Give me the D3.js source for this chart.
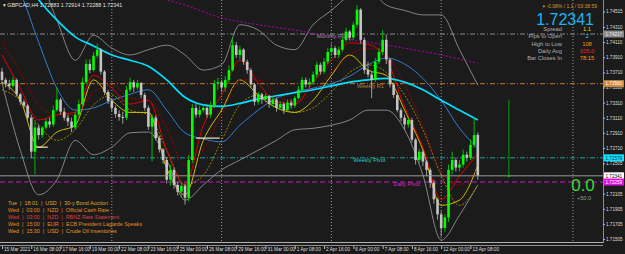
<!DOCTYPE html>
<html>
<head>
<meta charset="utf-8">
<script src="https://cdn.jsdelivr.net/npm/d3@7"></script>
<style>
body { margin: 0; background: #1b1b1b; }
svg { display: block; font-family: "Liberation Sans", "DejaVu Sans", sans-serif; }
</style>
</head>
<body>
<div id="chart"></div>
<script>
// GBPCAD H4 chart, MT4 style

// --- data ---
const timeLabels = ["15 Mar 2021", "16 Mar 08:00", "17 Mar 16:00", "19 Mar 00:00", "22 Mar 08:00",
  "23 Mar 16:00", "25 Mar 00:00", "26 Mar 08:00", "29 Mar 16:00", "31 Mar 00:00", "1 Apr 08:00",
  "2 Apr 16:00", "6 Apr 00:00", "7 Apr 08:00", "8 Apr 16:00", "12 Apr 00:00", "13 Apr 08:00"];
const timeLabelBars = [0, 8, 16, 24, 32, 40, 48, 56, 64, 72, 80, 88, 96, 104, 112, 120, 128];
const weekBars = [30, 60, 90, 120, 156];

const priceTicks = [1.74515, 1.74310, 1.74110, 1.73910, 1.73710, 1.73510, 1.73310, 1.73110,
  1.72910, 1.72710, 1.72505, 1.72105, 1.71905, 1.71705, 1.71505];

const opens = [
  1.7372, 1.7361, 1.7356, 1.7353, 1.7361, 1.7342, 1.7332, 1.7327, 1.7311, 1.7266,
  1.7298, 1.7288, 1.7298, 1.7306, 1.7302, 1.7321, 1.7335, 1.7319, 1.7311, 1.7306,
  1.7298, 1.7315, 1.7329, 1.7358, 1.7382, 1.7374, 1.7393, 1.7401, 1.7372, 1.7345,
  1.7333, 1.7324, 1.7316, 1.7312, 1.7311, 1.7348, 1.7358, 1.7351, 1.7357, 1.7341,
  1.7324, 1.7299, 1.7311, 1.7284, 1.7269, 1.7255, 1.7229, 1.7242, 1.7222, 1.7213,
  1.7221, 1.7205, 1.7255, 1.7324, 1.7315, 1.7321, 1.7324, 1.7315, 1.7327, 1.7356,
  1.7358, 1.7351, 1.7361, 1.7374, 1.7407, 1.7394, 1.7401, 1.7385, 1.7374, 1.7355,
  1.7332, 1.7342, 1.7335, 1.7340, 1.7329, 1.7335, 1.7324, 1.7329, 1.7321, 1.7331,
  1.7327, 1.7337, 1.7348, 1.7361, 1.7355, 1.7358, 1.7368, 1.7381, 1.7372, 1.7385,
  1.7398, 1.7403, 1.7394, 1.7401, 1.7414, 1.7425, 1.7417, 1.7434, 1.7454, 1.7414,
  1.7374, 1.7368, 1.7361, 1.7385, 1.7398, 1.7414, 1.7388, 1.7355, 1.7341, 1.7321,
  1.7311, 1.7302, 1.7308, 1.7282, 1.7255, 1.7266, 1.7253, 1.7242, 1.7225, 1.7203,
  1.7183, 1.7165, 1.7179, 1.7242, 1.7255, 1.7245, 1.7249, 1.7262, 1.7258, 1.7275,
  1.72883];
const closes = [
  1.7361, 1.7356, 1.7353, 1.7361, 1.7342, 1.7332, 1.7327, 1.7311, 1.7266, 1.7298,
  1.7288, 1.7298, 1.7306, 1.7302, 1.7321, 1.7335, 1.7319, 1.7311, 1.7306, 1.7298,
  1.7315, 1.7329, 1.7358, 1.7382, 1.7374, 1.7393, 1.7401, 1.7372, 1.7345, 1.7333,
  1.7324, 1.7316, 1.7312, 1.7311, 1.7348, 1.7358, 1.7351, 1.7357, 1.7341, 1.7324,
  1.7299, 1.7311, 1.7284, 1.7269, 1.7255, 1.7229, 1.7242, 1.7222, 1.7213, 1.7221,
  1.7205, 1.7255, 1.7324, 1.7315, 1.7321, 1.7324, 1.7315, 1.7327, 1.7356, 1.7358,
  1.7351, 1.7361, 1.7374, 1.7407, 1.7394, 1.7401, 1.7385, 1.7374, 1.7355, 1.7332,
  1.7342, 1.7335, 1.7340, 1.7329, 1.7335, 1.7324, 1.7329, 1.7321, 1.7331, 1.7327,
  1.7337, 1.7348, 1.7361, 1.7355, 1.7358, 1.7368, 1.7381, 1.7372, 1.7385, 1.7398,
  1.7403, 1.7394, 1.7401, 1.7414, 1.7425, 1.7417, 1.7434, 1.7454, 1.7414, 1.7374,
  1.7368, 1.7361, 1.7385, 1.7398, 1.7414, 1.7388, 1.7355, 1.7341, 1.7321, 1.7311,
  1.7302, 1.7308, 1.7282, 1.7255, 1.7266, 1.7253, 1.7242, 1.7225, 1.7203, 1.7183,
  1.7165, 1.7179, 1.7242, 1.7255, 1.7245, 1.7249, 1.7262, 1.7258, 1.7275, 1.7288,
  1.72341];
const highs = [
  1.7377, 1.7364, 1.7361, 1.7365, 1.7363, 1.7344, 1.7335, 1.7329, 1.7314, 1.7306,
  1.7302, 1.7300, 1.7310, 1.7311, 1.7327, 1.7351, 1.7337, 1.7324, 1.7315, 1.7311,
  1.7319, 1.7335, 1.7364, 1.7388, 1.7388, 1.7398, 1.7409, 1.7403, 1.7374, 1.7348,
  1.7337, 1.7327, 1.7321, 1.7319, 1.7353, 1.7364, 1.7361, 1.7361, 1.7358, 1.7344,
  1.7327, 1.7315, 1.7314, 1.7287, 1.7271, 1.7259, 1.7249, 1.7245, 1.7226, 1.7226,
  1.7224, 1.7262, 1.7329, 1.7329, 1.7327, 1.7329, 1.7328, 1.7332, 1.7361, 1.7364,
  1.7361, 1.7366, 1.7380, 1.7417, 1.7411, 1.7406, 1.7403, 1.7388, 1.7377, 1.7357,
  1.7345, 1.7344, 1.7343, 1.7341, 1.7339, 1.7337, 1.7333, 1.7332, 1.7335, 1.7335,
  1.7340, 1.7353, 1.7365, 1.7364, 1.7363, 1.7372, 1.7385, 1.7384, 1.7390, 1.7403,
  1.7409, 1.7406, 1.7405, 1.7419, 1.7430, 1.7427, 1.7438, 1.7460, 1.7456, 1.7417,
  1.7385, 1.7372, 1.7390, 1.7403, 1.7427, 1.7421, 1.7390, 1.7357, 1.7344, 1.7324,
  1.7315, 1.7312, 1.7311, 1.7284, 1.7270, 1.7269, 1.7255, 1.7245, 1.7229, 1.7205,
  1.7187, 1.7183, 1.7249, 1.7266, 1.7258, 1.7255, 1.7269, 1.7266, 1.7282, 1.7311,
  1.72914];
const lows = [
  1.7356, 1.7351, 1.7348, 1.7351, 1.7339, 1.7328, 1.7323, 1.7307, 1.7258, 1.7236,
  1.7282, 1.7284, 1.7295, 1.7298, 1.7299, 1.7319, 1.7315, 1.7307, 1.7300, 1.7292,
  1.7295, 1.7312, 1.7327, 1.7355, 1.7370, 1.7372, 1.7390, 1.7368, 1.7341, 1.7329,
  1.7319, 1.7311, 1.7307, 1.7303, 1.7308, 1.7345, 1.7345, 1.7348, 1.7337, 1.7320,
  1.7295, 1.7253, 1.7281, 1.7265, 1.7250, 1.7224, 1.7221, 1.7217, 1.7208, 1.7206,
  1.7196, 1.7200, 1.7251, 1.7311, 1.7311, 1.7318, 1.7311, 1.7311, 1.7324, 1.7348,
  1.7345, 1.7345, 1.7356, 1.7372, 1.7390, 1.7388, 1.7381, 1.7369, 1.7351, 1.7327,
  1.7328, 1.7329, 1.7331, 1.7324, 1.7325, 1.7319, 1.7321, 1.7316, 1.7319, 1.7323,
  1.7324, 1.7335, 1.7345, 1.7351, 1.7351, 1.7355, 1.7364, 1.7368, 1.7369, 1.7382,
  1.7393, 1.7390, 1.7390, 1.7398, 1.7411, 1.7413, 1.7414, 1.7430, 1.7409, 1.7369,
  1.7364, 1.7337, 1.7358, 1.7382, 1.7394, 1.7382, 1.7351, 1.7337, 1.7318, 1.7306,
  1.7295, 1.7298, 1.7278, 1.7249, 1.7251, 1.7247, 1.7234, 1.7218, 1.7197, 1.7176,
  1.7154, 1.7160, 1.7173, 1.7236, 1.7240, 1.7240, 1.7245, 1.7253, 1.7255, 1.7271,
  1.72288];

// indicator lines, read every 5 bars (bar 0, 5, 10 ... 130)
const maBars = d3.range(0, 131, 5);
const maCyan = [1.7526, 1.7500, 1.7467, 1.7440, 1.7418, 1.7406, 1.7394, 1.7387, 1.7379, 1.7361,
  1.7338, 1.7328, 1.7326, 1.7330, 1.7336, 1.7340, 1.7344, 1.7348, 1.7353, 1.7358,
  1.7361, 1.7363, 1.7358, 1.7348, 1.7334, 1.7321, 1.7308];
const maBlue = [1.7520, 1.7477, 1.7411, 1.7350, 1.7321, 1.7324, 1.7334, 1.7342, 1.7348, 1.7321,
  1.7291, 1.7283, 1.7279, 1.7301, 1.7321, 1.7337, 1.7345, 1.7350, 1.7356, 1.7366,
  1.7381, 1.7390, 1.7382, 1.7363, 1.7334, 1.7297, 1.7271];
const maRed = [1.7394, 1.7350, 1.7308, 1.7315, 1.7318, 1.7367, 1.7350, 1.7329, 1.7334, 1.7268,
  1.7222, 1.7301, 1.7341, 1.7387, 1.7357, 1.7332, 1.7329, 1.7358, 1.7387, 1.7410,
  1.7408, 1.7389, 1.7325, 1.7272, 1.7203, 1.7234, 1.7263];
const maDarkRed = [1.7411, 1.7371, 1.7328, 1.7315, 1.7315, 1.7345, 1.7354, 1.7337, 1.7334, 1.7297,
  1.7248, 1.7268, 1.7315, 1.7361, 1.7361, 1.7341, 1.7332, 1.7345, 1.7371, 1.7394,
  1.7403, 1.7394, 1.7354, 1.7301, 1.7239, 1.7222, 1.7244];
const maYellow = [1.7358, 1.7334, 1.7272, 1.7292, 1.7301, 1.7361, 1.7334, 1.7318, 1.7318, 1.7244,
  1.7209, 1.7281, 1.7321, 1.7361, 1.7341, 1.7324, 1.7318, 1.7334, 1.7367, 1.7394,
  1.7374, 1.7367, 1.7321, 1.7268, 1.7195, 1.7202, 1.7248];
const maOlive = [1.7348, 1.7334, 1.7301, 1.7281, 1.7295, 1.7328, 1.7341, 1.7321, 1.7315, 1.7268,
  1.7222, 1.7235, 1.7281, 1.7328, 1.7341, 1.7328, 1.7318, 1.7324, 1.7345, 1.7371,
  1.7381, 1.7371, 1.7341, 1.7295, 1.7235, 1.7195, 1.7222];
const bandUpper = [1.7559, 1.7533, 1.7500, 1.7440, 1.7387, 1.7420, 1.7403, 1.7394, 1.7401, 1.7407,
  1.7394, 1.7374, 1.7381, 1.7434, 1.7427, 1.7407, 1.7401, 1.7434, 1.7453, 1.7473,
  1.7480, 1.7460, 1.7453, 1.7447, 1.7447, 1.7401, 1.7354];
const bandLower = [1.7357, 1.7268, 1.7209, 1.7229, 1.7281, 1.7262, 1.7272, 1.7291, 1.7292, 1.7255,
  1.7202, 1.7222, 1.7242, 1.7255, 1.7268, 1.7281, 1.7295, 1.7297, 1.7301, 1.7308,
  1.7321, 1.7321, 1.7295, 1.7235, 1.7149, 1.7182, 1.7222];
const slowBars = [40, 50, 60, 70, 80, 90, 100, 110, 120, 130];
const maSlow = [1.7473, 1.7460, 1.7443, 1.7434, 1.7427, 1.7418, 1.7411, 1.7403, 1.7394, 1.7383];

// short flat support marks (start bar, end bar, price)
const flatStart = [9, 53];
const flatEnd = [12.5, 59.5];
const flatPrice = [1.7272, 1.7284];

// pivot levels
const levelNames = ["Monthly Pivot", "Weekly R1", "Weekly Pivot", "Daily Pivot"];
const levelPrices = [1.74217, 1.73560, 1.72579, 1.72259];
const levelLabelBars = [86, 97, 96, 107];
const bidPrice = 1.72341;

// green range marker
const rangeBar = 138.5;
const rangeTop = 1.7335;
const rangeBottom = 1.7234;

const title = "GBPCAD,H4  1.72883 1.72914 1.72288 1.72341";
const infoLabels = ["Spread", "Pips to Open", "High to Low", "Daily Avg", "Bar Closes In"];
const infoValues = ["1.1", "2", "108", "105.0", "78:15"];
const newsRows = [
  "Tue  |  18:01  |  USD  |  30-y Bond Auction",
  "Wed  |  03:00  |  NZD  |  Official Cash Rate",
  "Wed  |  03:00  |  NZD  |  RBNZ Rate Statement",
  "Wed  |  15:00  |  EUR  |  ECB President Lagarde Speaks",
  "Wed  |  15:30  |  USD  |  Crude Oil Inventories"];

// --- layout ---
const W = 625, H = 254;
const plotRight = 603, plotBottom = 243;
const barStep = 3.66;

const svg = d3.select("#chart").append("svg")
  .attr("width", W).attr("height", H);

svg.append("rect").attr("width", W).attr("height", H).attr("fill", "#1b1b1b");

svg.append("defs").append("clipPath").attr("id", "plot")
  .append("rect").attr("width", plotRight).attr("height", plotBottom);

const x = d3.scaleLinear().domain([0, 156]).range([2, 2 + 156 * barStep]);
const y = d3.scaleLinear().domain([1.71505, 1.74310]).range([239, 27]);

const plot = svg.append("g").attr("clip-path", "url(#plot)");

// week separators
plot.selectAll(".sep").data(weekBars).join("line")
  .attr("x1", d => x(d)).attr("x2", d => x(d))
  .attr("y1", 0).attr("y2", plotBottom)
  .attr("stroke", "#bbbbbb").attr("stroke-width", 0.8)
  .attr("stroke-dasharray", "1,2");

// pivot level lines
const levelColors = ["#8a8a8a", "#c07a30", "#1fa3a3", "#c21cc2"];
const levelDash = ["5,2,1,2", "5,2,1,2", "5,2,1,2", "5,3"];
plot.selectAll(".lvl").data(levelPrices).join("line")
  .attr("x1", 0).attr("x2", plotRight)
  .attr("y1", d => y(d)).attr("y2", d => y(d))
  .attr("stroke", (d, i) => levelColors[i])
  .attr("stroke-width", (d, i) => i === 3 ? 1.2 : 1)
  .attr("stroke-dasharray", (d, i) => levelDash[i]);

plot.selectAll(".lvlText").data(levelNames).join("text")
  .attr("x", (d, i) => x(levelLabelBars[i]))
  .attr("y", (d, i) => y(levelPrices[i]) + 4)
  .attr("font-size", 5.6)
  .attr("fill", (d, i) => ["#9a9a9a", "#b58040", "#2ac8c8", "#d02ad0"][i])
  .text(d => d);

// lines
const line = d3.line()
  .x(d => x(d[0]))
  .y(d => y(d[1]))
  .curve(d3.curveMonotoneX);

function drawLine(bars, vals, color, width, dash) {
  plot.append("path")
    .datum(bars.map((b, i) => [b, vals[i]]))
    .attr("d", line)
    .attr("fill", "none")
    .attr("stroke", color)
    .attr("stroke-width", width)
    .attr("stroke-dasharray", dash || null);
}

drawLine(maBars, bandUpper, "#858585", 1);
drawLine(maBars, bandLower, "#858585", 1);
drawLine(slowBars, maSlow, "#b000b0", 1, "2,2");
drawLine(maBars, maBlue, "#2f7fd0", 1);
drawLine(maBars, maOlive, "#9a8400", 1, "2,1.5");
drawLine(maBars, maYellow, "#d2c200", 1);
drawLine(maBars, maDarkRed, "#a00000", 1, "2,1.5");
drawLine(maBars, maRed, "#e00000", 1);
drawLine(maBars, maCyan, "#00e0ff", 1.7);

plot.selectAll(".flat").data(flatPrice).join("line")
  .attr("x1", (d, i) => x(flatStart[i])).attr("x2", (d, i) => x(flatEnd[i]))
  .attr("y1", d => y(d)).attr("y2", d => y(d))
  .attr("stroke", "#ecebc8").attr("stroke-width", 1.2);

// candles
const bars = d3.range(closes.length);
const up = i => closes[i] >= opens[i];

plot.selectAll(".wick").data(bars).join("line")
  .attr("x1", i => x(i)).attr("x2", i => x(i))
  .attr("y1", i => y(highs[i])).attr("y2", i => y(lows[i]))
  .attr("stroke", i => up(i) ? "#00c800" : "#a8a8a8")
  .attr("stroke-width", 0.9);

plot.selectAll(".body").data(bars).join("rect")
  .attr("x", i => x(i) - 1.3)
  .attr("width", 2.6)
  .attr("y", i => y(Math.max(opens[i], closes[i])))
  .attr("height", i => Math.max(1, Math.abs(y(opens[i]) - y(closes[i]))))
  .attr("fill", i => up(i) ? "#00ff00" : "#c4c4c4");

// bid line
plot.append("line")
  .attr("x1", 0).attr("x2", plotRight)
  .attr("y1", y(bidPrice)).attr("y2", y(bidPrice))
  .attr("stroke", "#9a9a9a").attr("stroke-width", 1);

// green range marker
plot.append("line")
  .attr("x1", x(rangeBar)).attr("x2", x(rangeBar))
  .attr("y1", y(rangeTop)).attr("y2", y(rangeBottom))
  .attr("stroke", "#00a000").attr("stroke-width", 1);
plot.append("circle")
  .attr("cx", x(rangeBar)).attr("cy", y(rangeBottom)).attr("r", 1.3)
  .attr("fill", "#00c000");

// frame
svg.append("line").attr("x1", plotRight + 0.5).attr("x2", plotRight + 0.5)
  .attr("y1", 0).attr("y2", plotBottom).attr("stroke", "#8a8a8a");
svg.append("line").attr("x1", 0).attr("x2", plotRight)
  .attr("y1", plotBottom - 0.5).attr("y2", plotBottom - 0.5).attr("stroke", "#b0b0b0");
svg.append("line").attr("x1", 0).attr("x2", plotRight)
  .attr("y1", plotBottom + 2.5).attr("y2", plotBottom + 2.5).attr("stroke", "#909090");

// price axis
const yAxis = svg.append("g")
  .attr("transform", `translate(${plotRight},0)`)
  .call(d3.axisRight(y).tickValues(priceTicks).tickSize(2).tickFormat(d3.format(".5f")));
yAxis.select(".domain").remove();
yAxis.selectAll("line").attr("stroke", "#bbbbbb");
yAxis.selectAll("text").attr("fill", "#dddddd").attr("font-size", 4.6).attr("x", 3);

// price tags
const tagPrices = [levelPrices[0], levelPrices[1], levelPrices[2], bidPrice, levelPrices[3]];
const tagFill = ["#8a8a8a", "#d08a40", "#12e0ff", "#ffffff", "#e010e0"];
const tagText = ["#e8e8e8", "#ffffff", "#003050", "#000000", "#ffffff"];
const tags = svg.selectAll(".tag").data(tagPrices).join("g")
  .attr("transform", d => `translate(${plotRight + 1},${y(d)})`);
tags.append("rect").attr("x", 0).attr("y", -3.5).attr("width", 20).attr("height", 7)
  .attr("fill", (d, i) => tagFill[i]);
tags.append("text").attr("x", 1.5).attr("y", 1.8).attr("font-size", 4.6)
  .attr("fill", (d, i) => tagText[i]).text(d => d3.format(".5f")(d));

// time axis
const xAxis = svg.append("g")
  .attr("transform", `translate(0,${plotBottom + 3})`)
  .call(d3.axisBottom(x).tickValues(timeLabelBars).tickSize(3)
    .tickFormat((d, i) => timeLabels[i]));
xAxis.select(".domain").remove();
xAxis.selectAll("line").attr("stroke", "#bbbbbb");
xAxis.selectAll("text").attr("fill", "#dddddd").attr("font-size", 4.7)
  .attr("text-anchor", "start").attr("dx", 1.5).attr("y", 2);

// title
svg.append("text").attr("x", 3).attr("y", 7).attr("font-size", 5.4).attr("fill", "#e0e0e0")
  .text("\u25BE " + title);

// info panel
svg.append("text").attr("x", 597).attr("y", 8).attr("text-anchor", "end")
  .attr("font-size", 5).attr("fill", "#d09a30")
  .text("\u25BE -0.08% / 1.1 / 03:38:59");
svg.append("text").attr("x", 594).attr("y", 24.5).attr("text-anchor", "end")
  .attr("font-size", 16).attr("fill", "#1cb4f0")
  .text(d3.format(".5f")(bidPrice));
const infoColors = ["#e6d200", "#19d0ff", "#e89a00", "#ff2020", "#ff9a00"];
svg.selectAll(".infoL").data(infoLabels).join("text")
  .attr("x", 562).attr("y", (d, i) => 31 + i * 7.3)
  .attr("text-anchor", "end").attr("font-size", 5.8).attr("fill", "#b0b0b0")
  .text(d => d);
svg.selectAll(".infoV").data(infoValues).join("text")
  .attr("x", 587).attr("y", (d, i) => 31 + i * 7.3)
  .attr("text-anchor", "middle").attr("font-size", 5.8)
  .attr("fill", (d, i) => infoColors[i])
  .text(d => d);

svg.append("text").attr("x", 583).attr("y", 191).attr("text-anchor", "middle")
  .attr("font-size", 17).attr("fill", "#34d934").text("0.0");
svg.append("text").attr("x", 584).attr("y", 200).attr("text-anchor", "middle")
  .attr("font-size", 5.6).attr("fill", "#8aa08a").text("+50.0");

// news rows
const newsColors = ["#d8a838", "#e08a20", "#d84040", "#e08a20", "#e09a30"];
svg.selectAll(".news").data(newsRows).join("text")
  .attr("x", 8).attr("y", (d, i) => 205 + i * 7)
  .attr("font-size", 5.4).attr("fill", (d, i) => newsColors[i])
  .attr("xml:space", "preserve")
  .text(d => d);
</script>
</body>
</html>
